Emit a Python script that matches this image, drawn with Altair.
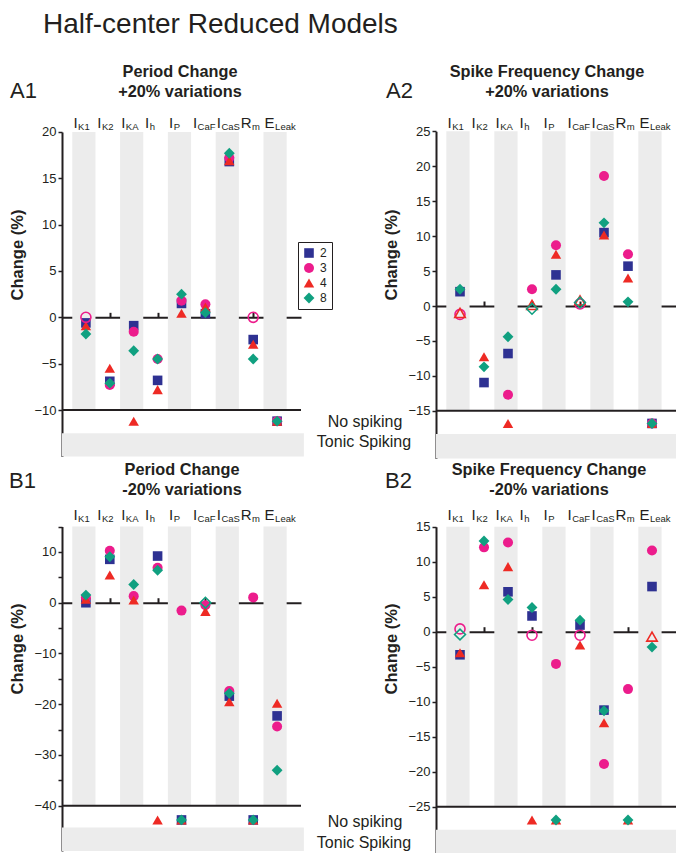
import altair as alt
import pandas as pd

FONT = "Liberation Sans"
INK = "#231F20"
GRAY = "#ECECEC"
ORIGIN = 8  # page margin around the chart

# ---------------- data ----------------
PARAMS = ["IK1", "IK2", "IKA", "Ih", "IP", "ICaF", "ICaS", "Rm", "ELeak"]
LABEL_MAIN = ["I", "I", "I", "I", "I", "I", "I", "R", "E"]
LABEL_SUB = ["K1", "K2", "KA", "h", "P", "CaF", "CaS", "m", "Leak"]
SERIES = ["2", "3", "4", "8"]
COLORS = ["#2E3192", "#EC1C8C", "#EE2A24", "#10A080"]
SHAPES = ["square", "circle", "triangle-up", "diamond"]
SIZES = [92, 118, 140, 128]
NS = "NS"  # no spiking

# A1: Period change, +20%
A1_S2 = [-0.6, -6.9, -0.9, -6.8, 1.5, 0.4, 16.8, -2.4, NS]
A1_S3 = [None, -7.3, -1.55, -4.5, 1.8, 1.4, 17.2, None, NS]
A1_S4 = [-0.9, -5.5, NS, -7.8, 0.45, 1.1, 16.9, -2.9, NS]
A1_S8 = [-1.8, -7.1, -3.6, -4.5, 2.5, 0.5, 17.7, -4.5, NS]
A1_OPEN_SERIES = ["3", "3"]
A1_OPEN_PARAM = ["IK1", "Rm"]
A1_OPEN_VALUE = [0.0, 0.0]

# A2: Spike frequency change, +20%
A2_S2 = [2.05, -10.95, -6.8, None, 4.45, None, 10.5, 5.7, NS]
A2_S3 = [None, None, -12.7, 2.4, 8.7, None, 18.6, 7.4, NS]
A2_S4 = [None, -7.25, NS, None, 7.4, None, 10.15, 4.0, NS]
A2_S8 = [2.4, -8.7, -4.4, None, 2.4, None, 11.9, 0.6, NS]
A2_OPEN_SERIES = ["3", "4", "4", "8", "3", "4", "8"]
A2_OPEN_PARAM = ["IK1", "IK1", "Ih", "Ih", "ICaF", "ICaF", "ICaF"]
A2_OPEN_VALUE = [-1.2, -1.0, 0.15, -0.4, 0.3, 0.8, 0.5]

# B1: Period change, -20%
B1_S2 = [0.0, 8.55, None, 9.2, NS, None, -18.4, NS, -22.3]
B1_S3 = [1.0, 10.25, 1.3, 6.9, -1.55, -0.5, -17.4, 1.05, -24.4]
B1_S4 = [0.7, 5.45, 0.55, NS, NS, -1.7, -19.5, NS, -19.8]
B1_S8 = [1.5, 9.05, 3.6, 6.4, NS, None, -17.85, NS, -33.0]
B1_OPEN_SERIES = ["8"]
B1_OPEN_PARAM = ["ICaF"]
B1_OPEN_VALUE = [0.0]

# B2: Spike frequency change, -20%
B2_S2 = [-3.3, None, 5.7, 2.25, None, 0.95, -11.2, None, 6.45]
B2_S3 = [None, 12.05, 12.75, None, -4.6, None, -18.9, -8.2, 11.6]
B2_S4 = [-3.0, 6.7, 9.3, NS, NS, -1.9, -13.0, NS, None]
B2_S8 = [None, 12.95, 4.6, 3.45, NS, 1.65, -11.3, NS, -2.2]
B2_OPEN_SERIES = ["3", "8", "3", "3", "4"]
B2_OPEN_PARAM = ["IK1", "IK1", "Ih", "ICaF", "ELeak"]
B2_OPEN_VALUE = [0.4, -0.4, -0.5, -0.5, -0.7]

# ---------------- layout (page pixels) ----------------
PANELS = {
    "A1": dict(x_range=(62, 301), y_domain=(-15, 20), y_range=(456.4, 131.9), top=20, sep=-10,
               ns=-11.2, tonic=(-12.5, -15), ticks=list(range(-10, 21, 5)), label_mod=5,
               label_base=127.7, title=["Period Change", "+20% variations"], title_x=180,
               title_base=(77, 97), tag_pos=(10, 98), change=(18, 255)),
    "A2": dict(x_range=(436, 676), y_domain=(-21.8, 25), y_range=(458.4, 131.25), top=25, sep=-15,
               ns=-16.8, tonic=(-18.3, -21.8), ticks=list(range(-15, 26, 5)), label_mod=5,
               label_base=127.7, title=["Spike Frequency Change", "+20% variations"], title_x=547,
               title_base=(77, 97), tag_pos=(386, 98), change=(392, 255)),
    "B1": dict(x_range=(62, 301), y_domain=(-48.9, 15), y_range=(850.9, 526.6), top=15, sep=-40,
               ns=-42.8, tonic=(-44.3, -48.9), ticks=list(range(-40, 16, 5)), label_mod=10,
               label_base=520, title=["Period Change", "-20% variations"], title_x=182,
               title_base=(475, 495), tag_pos=(9, 488), change=(18, 649)),
    "B2": dict(x_range=(436, 676), y_domain=(-31.6, 15), y_range=(852.9, 526.7), top=15, sep=-25,
               ns=-26.9, tonic=(-28.3, -31.6), ticks=list(range(-25, 16, 5)), label_mod=5,
               label_base=520, title=["Spike Frequency Change", "-20% variations"], title_x=549,
               title_base=(475, 495), tag_pos=(385, 488), change=(392, 649)),
}

ARIAL = {"I": 278, "R": 722, "E": 667, "K": 667, "1": 556, "2": 556, "A": 667, "h": 556,
         "P": 667, "C": 722, "a": 556, "F": 611, "S": 667, "m": 833, "L": 556, "e": 556, "k": 500}
MAIN_FS, SUB_FS = 15, 9.5
LABEL_LEFT_PX = 12.5  # label starts this far left of its column centre


def text_width(s, fs):
    return sum(ARIAL.get(c, 556) for c in s) / 1000 * fs


def lin(v, dom, rng):
    return rng[0] + (v - dom[0]) / (dom[1] - dom[0]) * (rng[1] - rng[0])


def text_layer(txt, x, y, size, weight="normal", align="left", baseline="alphabetic", angle=0):
    return alt.Chart(pd.DataFrame({"t": [txt]})).mark_text(
        align=align, baseline=baseline, font=FONT, fontSize=size, fontWeight=weight,
        color=INK, angle=angle
    ).encode(x=alt.value(x - ORIGIN), y=alt.value(y - ORIGIN), text="t:N")


def panel(name, series_lists, open_series, open_param, open_value, legend):
    cfg = PANELS[name]
    x0, x1 = cfg["x_range"]
    xdom = [-1, 9]
    xs = alt.Scale(domain=xdom, range=[x0 - ORIGIN, x1 - ORIGIN], nice=False, zero=False)
    ys = alt.Scale(domain=list(cfg["y_domain"]),
                   range=[cfg["y_range"][0] - ORIGIN, cfg["y_range"][1] - ORIGIN],
                   nice=False, zero=False)
    ppc = (x1 - x0) / (xdom[1] - xdom[0])
    zero_y = lin(0, cfg["y_domain"], cfg["y_range"])
    layers = []

    # alternating gray columns
    layers.append(
        alt.Chart(pd.DataFrame({"col": [0, 2, 4, 6, 8]}))
        .transform_calculate(a="datum.col - 0.57", b="datum.col + 0.4",
                             t=str(cfg["top"]), s=str(cfg["sep"]))
        .mark_rect(color=GRAY)
        .encode(x=alt.X("a:Q", scale=xs, axis=None), x2="b:Q",
                y=alt.Y("t:Q", scale=ys, axis=None), y2="s:Q")
    )
    # tonic spiking band
    layers.append(
        alt.Chart(pd.DataFrame({"a": [-1], "b": [9.12], "t": [cfg["tonic"][0]], "s": [cfg["tonic"][1]]}))
        .mark_rect(color=GRAY)
        .encode(x=alt.X("a:Q", scale=xs, axis=None), x2="b:Q",
                y=alt.Y("t:Q", scale=ys, axis=None), y2="s:Q")
    )
    # separator line between the measured range and "No spiking"
    layers.append(
        alt.Chart(pd.DataFrame({"a": [-1], "b": [9], "y": [cfg["sep"]]}))
        .mark_rule(color=INK, strokeWidth=2)
        .encode(x=alt.X("a:Q", scale=xs, axis=None), x2="b:Q",
                y=alt.Y("y:Q", scale=ys, axis=None))
    )

    rows = []
    for s, vals in zip(SERIES, series_lists):
        for i, v in enumerate(vals):
            if v is None:
                continue
            rows.append({"series": s, "col": i, "val": cfg["ns"] if v == NS else v})
    df = pd.DataFrame(rows)

    label_expr = "datum.label" if cfg["label_mod"] == 5 else \
        f"datum.value % {cfg['label_mod']} == 0 ? datum.label : ''"
    xaxis = alt.Axis(orient="top", offset=-(zero_y - ORIGIN), values=list(range(9)), labels=False,
                     tickSize=5, tickWidth=2, tickColor=INK, domainColor=INK, domainWidth=2,
                     grid=False, title=None)
    yaxis = alt.Axis(orient="left", offset=-(x0 - ORIGIN), values=cfg["ticks"], labelExpr=label_expr,
                     tickSize=4, tickWidth=1.5, tickColor=INK, domainColor=INK, domainWidth=2,
                     labelFont=FONT, labelFontSize=13, labelColor=INK, labelPadding=2,
                     grid=False, title=None)
    if legend:
        leg = alt.Legend(title=None, orient="none", legendX=290, legendY=234, padding=5,
                         strokeColor=INK, fillColor="white", symbolSize=60, symbolStrokeWidth=0,
                         labelFont=FONT, labelFontSize=12, labelColor=INK, rowPadding=3,
                         labelOffset=5)
    else:
        leg = None
    enc = dict(
        color=alt.Color("series:N", scale=alt.Scale(domain=SERIES, range=COLORS), legend=leg),
        shape=alt.Shape("series:N", scale=alt.Scale(domain=SERIES, range=SHAPES), legend=leg),
        size=alt.Size("series:N", scale=alt.Scale(domain=SERIES, range=SIZES), legend=None),
    )
    layers.append(
        alt.Chart(df).mark_point(filled=True, opacity=1)
        .encode(x=alt.X("col:Q", scale=xs, axis=xaxis), y=alt.Y("val:Q", scale=ys, axis=yaxis), **enc)
    )
    odf = pd.DataFrame({"series": open_series,
                        "col": [PARAMS.index(p) for p in open_param],
                        "val": open_value})
    enc_o = dict(
        color=alt.Color("series:N", scale=alt.Scale(domain=SERIES, range=COLORS), legend=None),
        shape=alt.Shape("series:N", scale=alt.Scale(domain=SERIES, range=SHAPES), legend=None),
        size=alt.Size("series:N", scale=alt.Scale(domain=SERIES, range=SIZES), legend=None),
    )
    layers.append(
        alt.Chart(odf).mark_point(filled=False, opacity=1, strokeWidth=1.6)
        .encode(x=alt.X("col:Q", scale=xs, axis=None), y=alt.Y("val:Q", scale=ys, axis=None), **enc_o)
    )

    # column labels (main letter + subscript), left-aligned near the column's left edge
    lab = []
    for i, (m, s) in enumerate(zip(LABEL_MAIN, LABEL_SUB)):
        wm = text_width(m, MAIN_FS)
        mx = i - LABEL_LEFT_PX / ppc
        lab.append({"main": m, "sub": s, "mx": mx, "sx": mx + (wm + 0.5) / ppc})
    ldf = pd.DataFrame(lab)
    layers.append(
        alt.Chart(ldf).mark_text(align="left", baseline="alphabetic", font=FONT, fontSize=MAIN_FS, color=INK)
        .encode(x=alt.X("mx:Q", scale=xs, axis=None), y=alt.value(cfg["label_base"] - ORIGIN), text="main:N")
    )
    layers.append(
        alt.Chart(ldf).mark_text(align="left", baseline="alphabetic", font=FONT, fontSize=SUB_FS, color=INK)
        .encode(x=alt.X("sx:Q", scale=xs, axis=None), y=alt.value(cfg["label_base"] + 2 - ORIGIN), text="sub:N")
    )

    # titles and tags
    for line, yb in zip(cfg["title"], cfg["title_base"]):
        layers.append(text_layer(line, cfg["title_x"], yb, 16.3, weight="bold", align="center"))
    layers.append(text_layer(name, cfg["tag_pos"][0], cfg["tag_pos"][1], 22))
    layers.append(text_layer("Change (%)", cfg["change"][0], cfg["change"][1], 16.5, weight="bold",
                             align="center", baseline="middle", angle=270))
    return layers


layers = []
layers.append(text_layer("Half-center Reduced Models", 43, 33, 28))
layers += panel("A1", [A1_S2, A1_S3, A1_S4, A1_S8], A1_OPEN_SERIES, A1_OPEN_PARAM, A1_OPEN_VALUE, True)
layers += panel("A2", [A2_S2, A2_S3, A2_S4, A2_S8], A2_OPEN_SERIES, A2_OPEN_PARAM, A2_OPEN_VALUE, False)
layers += panel("B1", [B1_S2, B1_S3, B1_S4, B1_S8], B1_OPEN_SERIES, B1_OPEN_PARAM, B1_OPEN_VALUE, False)
layers += panel("B2", [B2_S2, B2_S3, B2_S4, B2_S8], B2_OPEN_SERIES, B2_OPEN_PARAM, B2_OPEN_VALUE, False)
for yb_no, yb_tonic in [(427, 447), (826.5, 847.5)]:
    layers.append(text_layer("No spiking", 365, yb_no, 16, align="center"))
    layers.append(text_layer("Tonic Spiking", 364, yb_tonic, 16, align="center"))

chart = (
    alt.layer(*layers)
    .resolve_scale(x="independent", y="independent", color="independent",
                   shape="independent", size="independent")
    .resolve_legend(color="independent", shape="independent", size="independent")
    .properties(width=668, height=845, padding=0, autosize=alt.AutoSizeParams(type="none"))
    .configure_view(stroke=None)
)

chart.save("out.html", embed_options={"renderer": "svg", "actions": False})
